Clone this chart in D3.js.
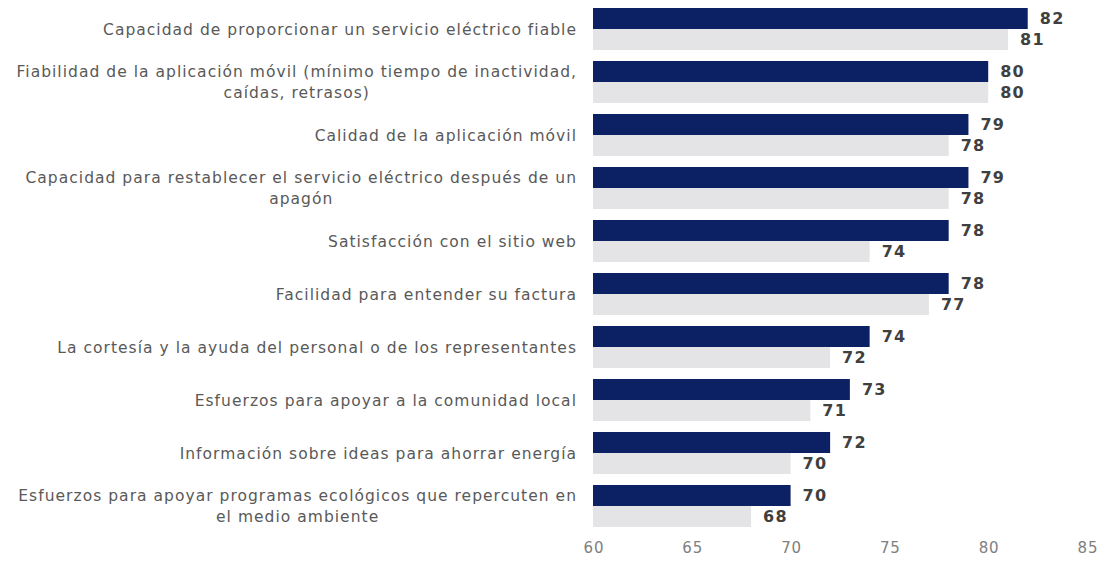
<!DOCTYPE html>
<html>
<head>
<meta charset="utf-8">
<script src="https://cdn.jsdelivr.net/npm/d3@7"></script>
<style>
  html, body { margin: 0; padding: 0; background: #ffffff; }
  svg { display: block; }
</style>
</head>
<body>
<svg id="chart" width="1105" height="565"></svg>
<script>
const categories = [
  "Capacidad de proporcionar un servicio eléctrico fiable",
  "Fiabilidad de la aplicación móvil (mínimo tiempo de inactividad,\ncaídas, retrasos)",
  "Calidad de la aplicación móvil",
  "Capacidad para restablecer el servicio eléctrico después de un\napagón",
  "Satisfacción con el sitio web",
  "Facilidad para entender su factura",
  "La cortesía y la ayuda del personal o de los representantes",
  "Esfuerzos para apoyar a la comunidad local",
  "Información sobre ideas para ahorrar energía",
  "Esfuerzos para apoyar programas ecológicos que repercuten en\nel medio ambiente"
];
const currentValues  = [82, 80, 79, 79, 78, 78, 74, 73, 72, 70];
const previousValues = [81, 80, 78, 78, 74, 77, 72, 71, 70, 68];
const xTicks = [60, 65, 70, 75, 80, 85];

const FONT = "DejaVu Sans, Verdana, sans-serif";
const svg = d3.select("#chart");
const x = d3.scaleLinear().domain([60, 85]).range([593, 1087]);
const y = d3.scaleBand().domain(d3.range(categories.length)).range([2.5, 532.5]).paddingInner(0.2075).paddingOuter(0.104);
const sub = d3.scaleBand().domain(["cur", "prev"]).range([0, y.bandwidth()]);

const series = [
  { key: "cur", values: currentValues, color: "#0b2163" },
  { key: "prev", values: previousValues, color: "#e4e3e5" }
];

const g = svg.append("g");
series.forEach(s => {
  g.selectAll(null).data(s.values).enter().append("rect")
    .attr("x", x(60))
    .attr("y", (d, i) => y(i) + sub(s.key))
    .attr("width", d => x(d) - x(60))
    .attr("height", sub.bandwidth())
    .attr("fill", s.color);
  g.selectAll(null).data(s.values).enter().append("text")
    .attr("x", d => x(d) + 12)
    .attr("y", (d, i) => y(i) + sub(s.key) + sub.bandwidth() / 2)
    .attr("dy", "0.36em")
    .attr("font-family", FONT)
    .attr("font-weight", "bold")
    .attr("font-size", "16px")
    .attr("letter-spacing", "1.3px")
    .attr("fill", "#404040")
    .text(d => d);
});

// category labels
const labelRight = 577;
categories.forEach((c, i) => {
  const lines = c.split("\n");
  const t = svg.append("text")
    .attr("font-family", FONT)
    .attr("font-size", "15.5px")
    .attr("letter-spacing", "1.03px")
    .attr("fill", "#595959")
    .attr("text-anchor", "middle");
  const cy = y(i) + y.bandwidth() / 2;
  const lh = 21;
  lines.forEach((ln, j) => {
    t.append("tspan")
      .attr("y", cy + (j - (lines.length - 1) / 2) * lh)
      .attr("dy", "0.36em")
      .text(ln);
  });
  let maxW = 0;
  t.selectAll("tspan").each(function () { maxW = Math.max(maxW, this.getComputedTextLength()); });
  t.selectAll("tspan").attr("x", labelRight - maxW / 2);
});

// x axis
const axis = d3.axisBottom(x).tickValues(xTicks).tickSize(0).tickPadding(0);
const ax = svg.append("g").attr("transform", "translate(0,542)").call(axis);
ax.select(".domain").remove();
ax.selectAll("text")
  .attr("font-family", FONT)
  .attr("font-size", "15px")
  .attr("letter-spacing", "0.8px")
  .attr("dx", "0.4px")
  .attr("fill", "#808080");
</script>
</body>
</html>
